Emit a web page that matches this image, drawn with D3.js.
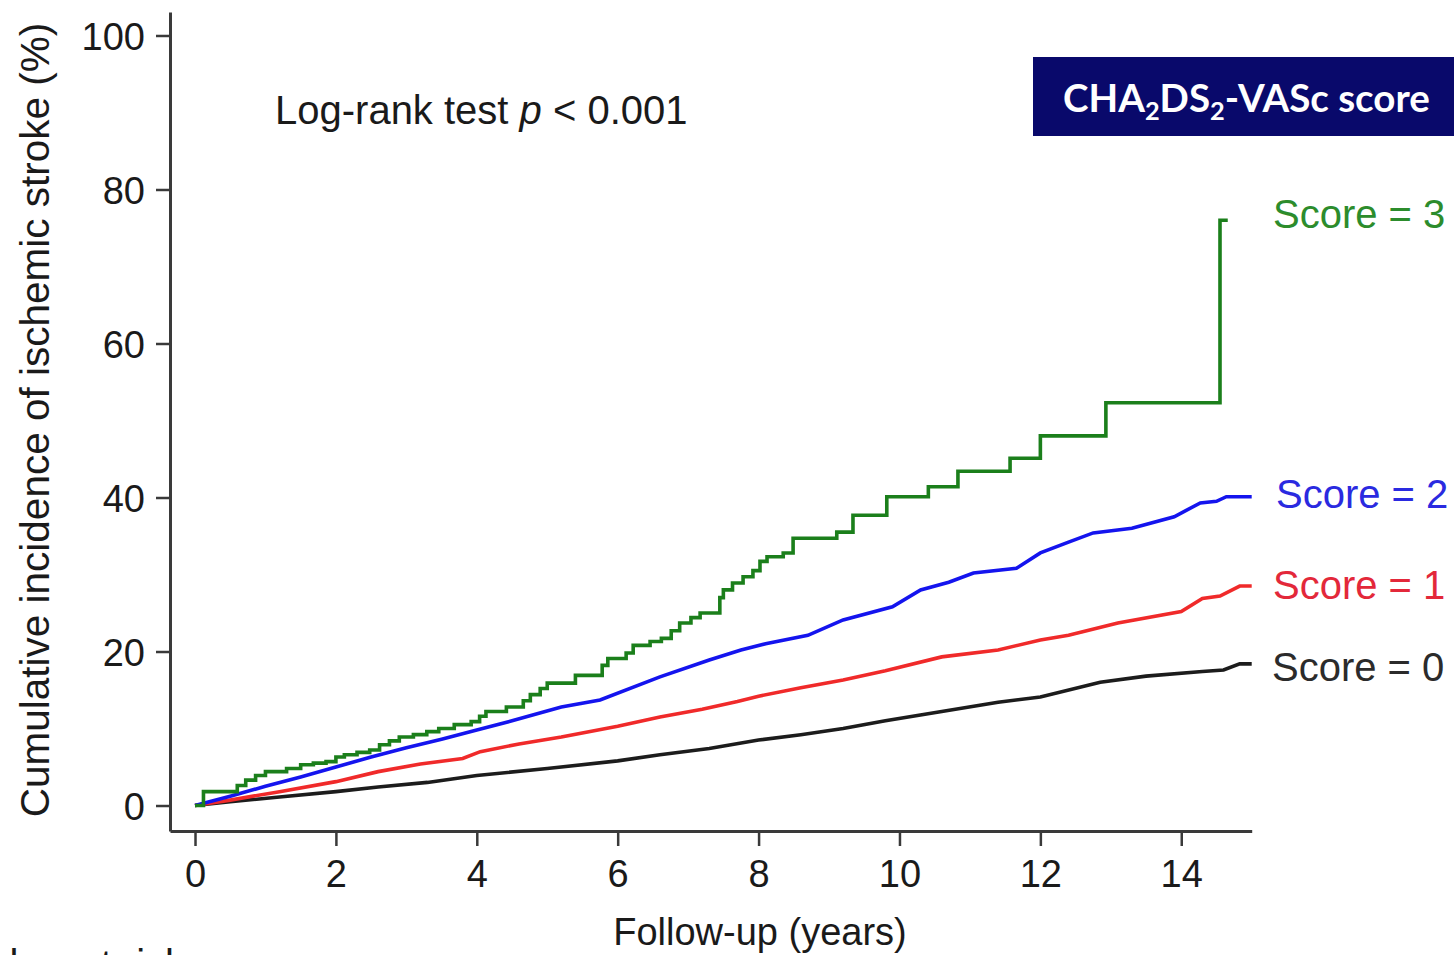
<!DOCTYPE html>
<html>
<head>
<meta charset="utf-8">
<script src="https://cdn.jsdelivr.net/npm/d3@7"></script>
<style>
  html, body { margin: 0; padding: 0; background: #fff; overflow: hidden; }
  svg { display: block; }
  text { font-family: "Liberation Sans", Arial, Helvetica, sans-serif; }
</style>
</head>
<body>
<svg id="chart" width="1454" height="955"></svg>
<script>
// Axis ticks
const yTicks = [0, 20, 40, 60, 80, 100];
const xTicks = [0, 2, 4, 6, 8, 10, 12, 14];

// Cumulative incidence of ischemic stroke (%) by follow-up year, per CHA2DS2-VASc score
const score0Time = [0, 0.5, 1.2, 2, 2.6, 3.3, 4, 5, 6, 6.6, 7.3, 8, 8.6, 9.2, 9.8, 10.6, 11.4, 12, 12.85, 13.5, 14.3, 14.6, 14.83, 15];
const score0Pct  = [0, 0.5, 1.1, 1.8, 2.4, 3.0, 3.9, 4.8, 5.8, 6.6, 7.4, 8.5, 9.2, 10.0, 11.0, 12.2, 13.4, 14.1, 16.0, 16.8, 17.4, 17.6, 18.4, 18.4];

const score1Time = [0, 0.5, 1.2, 2, 2.6, 3.2, 3.8, 4.05, 4.6, 5.2, 6, 6.6, 7.2, 7.7, 8, 8.6, 9.2, 9.8, 10.6, 11.4, 12, 12.4, 13.1, 14, 14.3, 14.55, 14.83, 15];
const score1Pct  = [0, 0.7, 1.8, 3.1, 4.4, 5.4, 6.1, 7.0, 8.0, 8.9, 10.3, 11.5, 12.5, 13.5, 14.2, 15.3, 16.3, 17.5, 19.3, 20.2, 21.5, 22.1, 23.7, 25.2, 26.9, 27.2, 28.5, 28.5];

const score2Time = [0, 0.5, 1, 1.5, 2, 2.5, 3, 3.5, 4, 4.5, 5.2, 5.75, 6.6, 7.3, 7.75, 8.1, 8.7, 9.2, 9.9, 10.3, 10.7, 11.05, 11.66, 12, 12.4, 12.75, 13.3, 13.9, 14.27, 14.5, 14.64, 15];
const score2Pct  = [0, 1.2, 2.5, 3.7, 5.0, 6.3, 7.5, 8.6, 9.8, 11.0, 12.8, 13.7, 16.7, 18.9, 20.2, 21.0, 22.1, 24.1, 25.8, 28.0, 29.0, 30.2, 30.8, 32.8, 34.2, 35.4, 36.0, 37.5, 39.3, 39.5, 40.1, 40.1];

// Score 3 is a step function: time of each jump and the level reached
const score3Time = [0, 0.12, 0.6, 0.72, 0.86, 1.0, 1.3, 1.5, 1.68, 1.86, 2.0, 2.12, 2.3, 2.48, 2.62, 2.76, 2.9, 3.1, 3.29, 3.46, 3.68, 3.92, 4.04, 4.13, 4.42, 4.66, 4.76, 4.9, 5.0, 5.4, 5.78, 5.86, 6.12, 6.22, 6.46, 6.62, 6.76, 6.88, 7.04, 7.17, 7.45, 7.5, 7.63, 7.78, 7.92, 8.02, 8.12, 8.35, 8.49, 9.11, 9.34, 9.82, 10.41, 10.83, 11.57, 12.0, 12.93, 14.55, 14.66];
const score3Pct  = [0, 1.8, 2.6, 3.3, 3.9, 4.4, 4.8, 5.3, 5.5, 5.7, 6.3, 6.6, 6.9, 7.2, 7.9, 8.4, 8.9, 9.2, 9.6, 10.0, 10.5, 10.9, 11.6, 12.2, 12.8, 13.6, 14.4, 15.2, 15.9, 16.9, 18.2, 19.1, 19.8, 20.8, 21.3, 21.7, 22.7, 23.7, 24.4, 25.0, 27.0, 28.0, 28.9, 29.7, 30.5, 31.7, 32.3, 32.8, 34.7, 35.5, 37.7, 40.1, 41.4, 43.4, 45.1, 48.0, 52.3, 76.0, 76.0];

const seriesLabels = ["Score = 0", "Score = 1", "Score = 2", "Score = 3"];

const svg = d3.select("#chart");

// Scales: the axis lines run a little past the first/last tick on both axes
const x = d3.scaleLinear().domain([-0.355, 15]).range([170, 1251.7]);
const y = d3.scaleLinear().domain([-3.31, 103.05]).range([831, 12]);

const axisColor = "#3a3a3a";
const tickFont = 38;

// Y axis
const yAxis = svg.append("g")
  .attr("transform", "translate(170,0)")
  .call(d3.axisLeft(y).tickValues(yTicks).tickSize(14).tickSizeOuter(0).tickPadding(11));
// X axis
const xAxis = svg.append("g")
  .attr("transform", "translate(0,831)")
  .call(d3.axisBottom(x).tickValues(xTicks).tickSize(15).tickSizeOuter(0).tickPadding(14));

[yAxis, xAxis].forEach(g => {
  g.select(".domain").attr("stroke", axisColor).attr("stroke-width", 3);
  g.selectAll(".tick line").attr("stroke", axisColor).attr("stroke-width", 2.5);
  g.selectAll(".tick text")
    .attr("fill", "#1a1a1a")
    .style("font-size", tickFont + "px")
    .style("font-family", '"Liberation Sans", Arial, sans-serif');
});
yAxis.selectAll(".tick text").attr("dy", "0.36em");

// Axis titles
svg.append("text")
  .attr("transform", "translate(49,420) rotate(-90)")
  .attr("text-anchor", "middle")
  .attr("fill", "#1a1a1a")
  .style("font-size", "40.5px")
  .text("Cumulative incidence of ischemic stroke (%)");

svg.append("text")
  .attr("x", 760).attr("y", 945)
  .attr("text-anchor", "middle")
  .attr("fill", "#1a1a1a")
  .style("font-size", "38px")
  .text("Follow-up (years)");

// Heading of the risk table below the plot (only its top edge is in view)
svg.append("text")
  .attr("x", -75).attr("y", 978)
  .attr("fill", "#1a1a1a")
  .style("font-size", "40px")
  .text("Number at risk");

// Test annotation
const lr = svg.append("text")
  .attr("x", 275).attr("y", 124)
  .attr("fill", "#1a1a1a")
  .style("font-size", "40px");
lr.append("tspan").text("Log-rank test ");
lr.append("tspan").style("font-style", "italic").text("p");
lr.append("tspan").text(" < 0.001");

// Legend heading box
svg.append("rect")
  .attr("x", 1033).attr("y", 57)
  .attr("width", 440).attr("height", 79)
  .attr("fill", "#09096b");

const title = svg.append("text")
  .attr("x", 1063).attr("y", 112)
  .attr("fill", "#ffffff")
  .style("font-family", "Lato, 'Open Sans', sans-serif")
  .style("font-weight", "700")
  .style("font-size", "38px");
const sub = (s) => title.append("tspan").attr("dy", 8).style("font-size", "25px").text(s);
title.append("tspan").text("CHA");
sub("2");
title.append("tspan").attr("dy", -8).text("DS");
sub("2");
title.append("tspan").attr("dy", -8).text("-VASc score");
// Fit the heading to its box width
const tw = title.node().getComputedTextLength();
if (tw > 0) {
  const k = 367 / tw;
  title.style("font-size", (38 * k) + "px");
  title.selectAll("tspan").filter(function () { return this.style.fontSize === "25px"; })
    .style("font-size", (25 * k) + "px");
}

// Curves
const series = [
  { time: score0Time, pct: score0Pct, color: "#1c1c1c", curve: d3.curveLinear },
  { time: score1Time, pct: score1Pct, color: "#f02a2a", curve: d3.curveLinear },
  { time: score2Time, pct: score2Pct, color: "#1414ee", curve: d3.curveLinear },
  { time: score3Time, pct: score3Pct, color: "#1b7f1b", curve: d3.curveStepAfter }
];

series.forEach(s => {
  const pts = s.time.map((t, i) => [t, s.pct[i]]);
  const line = d3.line().x(d => x(d[0])).y(d => y(d[1])).curve(s.curve);
  svg.append("path")
    .attr("d", line(pts))
    .attr("fill", "none")
    .attr("stroke", s.color)
    .attr("stroke-width", 3.6)
    .attr("stroke-linejoin", "miter")
    .attr("stroke-linecap", "butt");
});

// Curve labels at the right
const labelPos = [
  { x: 1272, y: 681, color: "#2b2b2b" },
  { x: 1273, y: 599, color: "#e3283a" },
  { x: 1276, y: 508, color: "#2a2ae0" },
  { x: 1273, y: 228, color: "#2c8c2c" }
];
seriesLabels.forEach((lab, i) => {
  svg.append("text")
    .attr("x", labelPos[i].x).attr("y", labelPos[i].y)
    .attr("fill", labelPos[i].color)
    .style("font-size", "40px")
    .text(lab);
});
</script>
</body>
</html>
